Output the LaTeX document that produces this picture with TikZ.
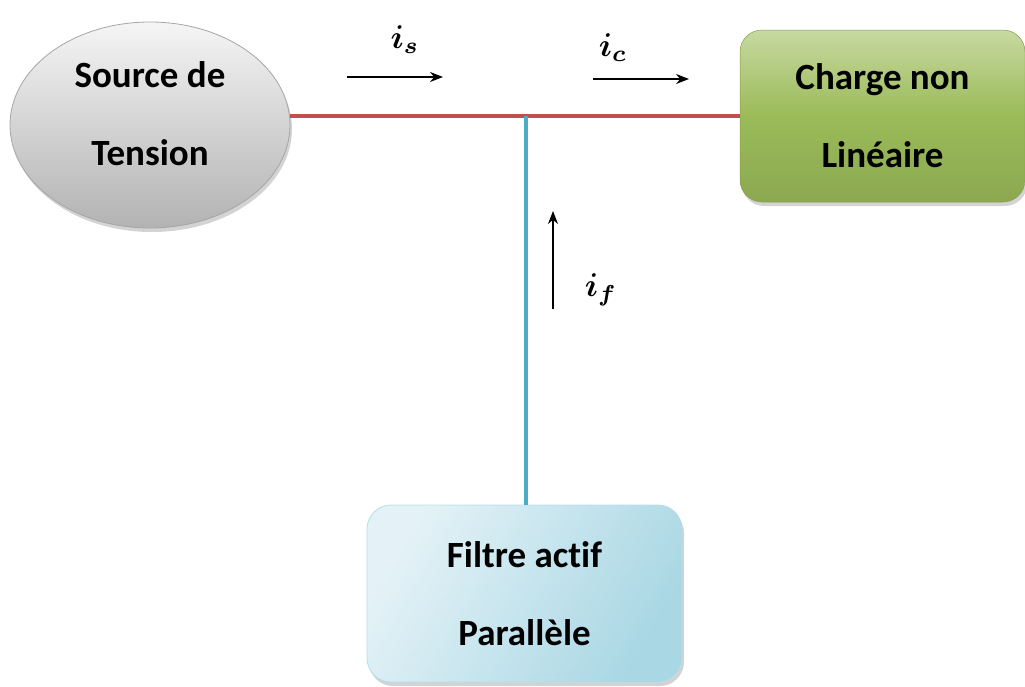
\documentclass[tikz,border=0pt]{standalone}
\usepackage{amsmath,bm}
\usepackage{graphicx}
\usepackage{fontspec}
\setmainfont{Carlito}[Ligatures=NoCommon]
\usetikzlibrary{shapes.geometric,shadows,arrows.meta}

\definecolor{busred}{HTML}{C0504D}
\definecolor{busblue}{HTML}{4BACC6}
\definecolor{grtop}{HTML}{C7D9A0}
\definecolor{grmid}{HTML}{9BBB59}
\definecolor{bltop}{HTML}{A9D7E4}
\definecolor{blbot}{HTML}{E4F2F7}

\newcommand{\curr}[1]{\scalebox{3.3}{$\bm{i}_{\bm{#1}}$}}

\tikzset{
  blocktext/.style={font=\bfseries\fontsize{37}{78}\selectfont, align=center, text=black},
  softshadow/.style={drop shadow={opacity=0.35, shadow xshift=2pt, shadow yshift=-4pt}},
  bus/.style={line width=4pt},
  current/.style={line width=1.3pt, -{Stealth[length=13pt,width=10pt]}},
  curlabel/.style={inner sep=0pt}
}

\begin{document}
\begin{tikzpicture}[x=1pt,y=-1pt]
  \useasboundingbox (0,0) rectangle (1025,686);

  % blocks
  \node[ellipse, minimum width=280pt, minimum height=206pt, draw=gray!70, line width=0.8pt,
        top color=gray!8, bottom color=gray!60, softshadow]
        (src) at (150,125) {};
  \node[blocktext] (srctxt) at (150,114) {Source de\\Tension};
  \node[rectangle, rounded corners=22pt, minimum width=285pt, minimum height=172pt,
        draw=grmid!85!black, line width=0.5pt,
        top color=grtop, bottom color=grmid!90!black, middle color=grmid, softshadow, blocktext]
        (load) at (882.5,116) {Charge non\\Linéaire};
  \node[rectangle, rounded corners=24pt, minimum width=315pt, minimum height=177pt,
        draw=busblue!40, line width=0.8pt,
        shading=axis, left color=blbot, right color=bltop, shading angle=60, softshadow, blocktext]
        (filt) at (524.5,593.5) {Filtre actif\\Parallèle};

  % connection point and bus lines
  \coordinate (j) at (526,116);
  \draw[bus, busred] (src.east |- j) -- (load.west |- j);
  \draw[bus, busblue] (j) -- (filt.north -| j);

  % current arrows
  \coordinate (isA) at (347,77);  \coordinate (isB) at (443,77);
  \coordinate (icA) at (593,79);  \coordinate (icB) at (689,79);
  \coordinate (ifA) at (553,309); \coordinate (ifB) at (553,211);
  \draw[current] (isA) -- (isB);
  \draw[current] (icA) -- (icB);
  \draw[current] (ifA) -- (ifB);

  \node[curlabel] (ls) at (405,40) {\curr{s}};
  \node[curlabel] (lc) at (613,48) {\curr{c}};
  \node[curlabel] (lf) at (601,290) {\curr{f}};
\end{tikzpicture}
\end{document}
